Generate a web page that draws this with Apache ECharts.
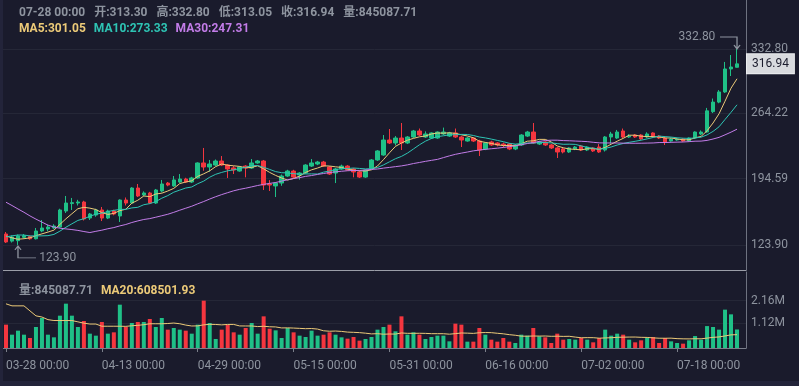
<!DOCTYPE html>
<html><head><meta charset="utf-8">
<script src="https://cdn.jsdelivr.net/npm/echarts@6/dist/echarts.min.js"></script>
<style>
html,body{margin:0;padding:0;background:#23243a;width:799px;height:386px;overflow:hidden;}
#c{position:absolute;left:3px;top:0;width:796px;height:381px;background:#1a1b2c;}
</style></head><body><div id="c"></div>
<script>
// ---- data ----
// closes / volumes before the first visible day (scrolled out of view, used only for the MA lines)
const preClose = [238, 244, 240, 246, 242, 238, 239, 205, 198, 192, 190, 196, 188, 189, 122, 116, 115, 119, 118, 124, 121, 125, 134, 140, 138, 142, 141, 131, 126];
const preVolume = [2450000, 800000, 610000, 5050000, 5480000, 2450000, 3000000, 1290000, 1480000, 2020000, 1480000, 2160000, 2430000, 1450000, 560000, 3190000, 650000, 720000, 1980000];

const open = [135.6,128.0,128.5,132.0,133.0,130.5,138.8,141.0,142.0,143.0,160.1,168.0,168.6,169.7,152.6,155.8,161.2,152.6,160.1,154.8,
171.8,168.6,184.6,177.2,179.3,168.6,181.4,189.9,186.8,191.0,194.2,191.0,195.3,211.3,207.0,209.1,213.4,209.1,206.0,202.7,
208.0,205.9,211.3,213.4,188.9,186.8,189.9,197.4,202.7,198.5,200.6,208.0,210.2,212.3,207.0,200.6,204.9,208.0,204.9,201.7,
196.3,205.9,214.5,219.8,235.8,232.6,237.9,232.6,239.0,245.4,239.0,237.9,237.9,242.2,240.0,243.3,239.0,234.7,237.9,234.7,
226.2,233.7,232.6,231.5,231.5,226.2,230.5,240.0,244.3,231.5,233.7,230.5,227.3,226.2,223.0,226.2,229.4,225.1,227.3,228.3,
225.1,239.0,237.9,245.4,239.0,241.1,241.1,239.0,243.3,240.0,237.9,234.7,235.8,236.9,234.7,237.9,242.2,244.3,266.0,276.2,
287.0,311.5,313.30];
const close = [127.1,132.4,133.5,133.8,130.5,138.8,142.0,143.0,144.1,161.2,168.6,169.0,169.7,151.6,156.9,161.2,152.6,160.1,156.9,171.8,
168.6,184.6,176.1,179.3,168.6,182.5,188.9,187.8,193.2,194.2,191.0,195.3,211.3,207.0,210.2,213.4,209.1,204.9,203.8,207.0,
205.9,211.3,213.4,187.8,187.8,189.9,197.4,202.7,196.3,200.6,209.1,211.3,212.3,208.0,199.5,204.9,208.0,203.8,201.7,196.3,
203.8,214.5,224.1,235.8,232.6,237.9,232.6,239.0,245.4,241.1,242.2,243.3,244.3,244.3,243.3,239.0,235.8,237.9,234.7,225.1,
232.6,230.5,230.5,230.5,226.2,230.5,241.1,244.3,232.6,233.7,230.5,227.3,223.0,223.0,227.3,228.3,225.1,228.3,224.1,223.0,
239.0,242.2,244.3,239.0,240.0,239.0,236.9,242.2,239.0,237.9,233.7,236.9,236.8,234.7,237.9,244.3,244.3,266.85,276.2,287.01,
311.5,313.6,316.94];
const low = [126.0,126.5,123.9,131.0,129.5,129.8,137.5,138.5,141.0,142.0,158.0,161.2,166.0,150.0,150.5,154.0,149.4,151.5,155.5,148.4,
166.0,168.0,175.0,176.0,167.5,167.6,180.0,186.5,186.0,190.0,190.0,189.9,194.5,203.0,202.0,208.0,208.0,195.3,199.5,202.0,
196.0,205.0,210.5,182.5,181.4,175.0,187.0,196.5,195.0,193.5,199.5,207.0,209.0,207.0,198.5,189.9,204.0,203.0,196.0,195.3,
195.5,205.0,213.5,219.0,231.5,230.0,225.1,231.5,238.0,240.0,238.0,237.0,237.0,241.0,239.0,238.0,228.3,234.0,233.7,218.7,
225.0,229.5,229.0,228.0,225.0,225.0,229.5,239.0,231.5,230.5,229.5,226.2,216.6,221.5,222.0,225.0,224.0,224.0,223.0,222.0,
223.5,232.0,236.9,238.0,238.0,238.0,236.0,238.0,238.0,236.9,230.5,234.0,235.0,234.0,234.0,237.0,241.0,243.5,264.5,275.0,
286.0,304.0,313.05];
const high = [137.7,134.0,135.0,135.5,134.0,142.0,150.5,145.5,146.0,162.5,176.1,174.0,172.0,171.0,158.0,162.5,164.4,161.5,161.5,172.5,
174.5,185.5,188.9,181.0,180.5,183.6,193.2,191.0,197.4,199.5,195.5,196.5,212.0,227.3,214.5,215.0,218.7,210.0,208.0,208.0,
209.0,215.5,214.5,214.5,193.0,191.0,199.0,204.0,204.0,201.5,210.0,215.5,213.5,213.5,208.0,206.0,209.5,209.0,206.0,203.0,
204.5,215.5,225.0,241.1,247.5,240.0,253.9,240.0,246.5,248.0,245.0,244.0,245.0,249.0,244.5,248.0,240.0,239.0,238.5,236.0,
233.5,235.0,233.5,233.0,232.5,231.5,242.0,245.5,253.9,235.0,234.5,231.5,228.3,227.3,228.0,229.4,230.5,229.0,228.0,231.5,
240.0,244.5,246.5,248.0,242.0,242.0,242.0,244.0,244.0,241.0,239.0,237.9,237.5,237.5,238.5,245.0,246.0,270.0,280.0,289.0,
319.0,326.4,332.80];
const volume = [1065000,608000,791000,608000,456000,958000,1369000,608000,487000,1475000,2023000,1475000,958000,1232000,654000,563000,1186000,654000,715000,1977000,
958000,1141000,1186000,1186000,1323000,958000,1369000,837000,913000,837000,791000,654000,1065000,2160000,1141000,411000,837000,1050000,715000,608000,
913000,1141000,654000,1445000,882000,806000,456000,913000,715000,563000,502000,791000,563000,608000,715000,608000,487000,426000,502000,335000,
411000,502000,837000,958000,1065000,761000,1445000,608000,715000,608000,411000,502000,563000,563000,304000,1110000,1065000,289000,289000,913000,
608000,380000,289000,456000,289000,228000,608000,563000,913000,532000,487000,228000,654000,380000,411000,380000,456000,380000,259000,456000,
837000,563000,654000,608000,380000,259000,350000,456000,502000,228000,456000,304000,228000,198000,350000,545000,380000,1000000,958000,837000,
1750000,1535950.89,845087.71];

const priceTicks = [123.90, 194.59, 264.22, 332.80];
const volumeTicks = [1120000, 2160000];
const firstDay = '2023-03-28';

// ---- derived ----
const N = close.length;
const pad = n => (n < 10 ? '0' : '') + n;
const dates = [];
const d0 = new Date(firstDay + 'T00:00:00Z');
for (let i = 0; i < N; i++) {
  const d = new Date(d0.getTime() + i * 86400000);
  dates.push(pad(d.getUTCMonth() + 1) + '-' + pad(d.getUTCDate()) + ' 00:00');
}
const categories = dates.concat(['']); // one empty slot = right offset

function movingAvg(all, n, offset) {
  const out = [];
  for (let i = 0; i < N; i++) {
    const j = i + offset;
    let s = 0;
    for (let k = j - n + 1; k <= j; k++) s += all[k];
    out.push(s / n);
  }
  return out;
}
const allClose = preClose.concat(close);
const allVol = preVolume.concat(volume);
const ma5 = movingAvg(allClose, 5, preClose.length);
const ma10 = movingAvg(allClose, 10, preClose.length);
const ma30 = movingAvg(allClose, 30, preClose.length);
const vma20 = movingAvg(allVol, 20, preVolume.length);

const UP = '#1fc087', DOWN = '#f5363f';
const C5 = '#ecca78', C10 = '#2ec4b4', C30 = '#c27ce8';
const TXT = '#8e949f';
const FONT = "Roboto, 'Noto Sans CJK SC', sans-serif";

const candle = close.map((c, i) => [open[i], c, low[i], high[i]]);
const L = N - 1;
let maxIdx = 0, minIdx = 0;
for (let i = 0; i < N; i++) { if (high[i] > high[maxIdx]) maxIdx = i; if (low[i] < low[minIdx]) minIdx = i; }

const labelEvery16 = (idx) => idx % 16 === 0 && idx < N;
const f2 = v => v.toFixed(2);

const chart = echarts.init(document.getElementById('c'), null, {renderer: 'canvas'});
chart.setOption({
  animation: false,
  backgroundColor: '#1a1b2c',
  textStyle: {fontFamily: FONT},
  title: [
    {left: 16, top: 7, padding: 0,
     text: '{t|' + dates[L] + '}{t|开:' + f2(open[L]) + '}{t|高:' + f2(high[L]) + '}{t|低:' + f2(low[L]) + '}{t|收:' + f2(close[L]) + '}{t|量:' + f2(volume[L]) + '}',
     textStyle: {fontFamily: FONT, rich: {t: {color: TXT, fontSize: 12, fontFamily: FONT, padding: [0, 9, 0, 0]}}}},
    {left: 16, top: 23, padding: 0,
     text: '{a|MA5:' + f2(ma5[L]) + '}{b|MA10:' + f2(ma10[L]) + '}{c|MA30:' + f2(ma30[L]) + '}',
     textStyle: {fontFamily: FONT, rich: {
       a: {color: C5, fontSize: 12, fontFamily: FONT, padding: [0, 8, 0, 0]},
       b: {color: C10, fontSize: 12, fontFamily: FONT, padding: [0, 8, 0, 0]},
       c: {color: C30, fontSize: 12, fontFamily: FONT, padding: [0, 8, 0, 0]}}}},
    {left: 16, top: 285, padding: 0,
     text: '{t|量:' + f2(volume[L]) + '}{a|MA20:' + f2(vma20[L]) + '}',
     textStyle: {fontFamily: FONT, rich: {
       t: {color: TXT, fontSize: 12, fontFamily: FONT, padding: [0, 8, 0, 0]},
       a: {color: C5, fontSize: 12, fontFamily: FONT}}}}
  ],
  grid: [
    {left: 0, right: 53, top: 0, height: 270},
    {left: 0, right: 53, top: 272, height: 76}
  ],
  xAxis: [
    {type: 'category', gridIndex: 0, data: categories, boundaryGap: true,
     axisLine: {show: true, lineStyle: {color: '#9b9ea8', width: 1}},
     axisTick: {show: false}, axisLabel: {show: false}, splitLine: {show: false}},
    {type: 'category', gridIndex: 1, data: categories, boundaryGap: true,
     axisLine: {show: true, lineStyle: {color: '#7a7e8a', width: 1}},
     axisTick: {show: true, alignWithLabel: true, interval: labelEvery16, length: 4, lineStyle: {color: '#7a7e8a'}},
     axisLabel: {show: true, interval: labelEvery16, align: 'left', color: TXT, fontSize: 12, margin: 12, fontFamily: FONT},
     splitLine: {show: false}}
  ],
  yAxis: [
    {type: 'value', gridIndex: 0, position: 'right', min: 97.21, max: 385.03, scale: true,
     axisLine: {show: true, lineStyle: {color: '#6e7280'}},
     axisTick: {show: false, customValues: priceTicks},
     axisLabel: {customValues: priceTicks, formatter: v => v.toFixed(2), color: TXT, fontSize: 12, margin: 5, fontFamily: FONT},
     splitLine: {show: true, lineStyle: {color: '#252737', width: 1}}},
    {type: 'value', gridIndex: 1, position: 'right', min: 0, max: 3468000,
     axisLine: {show: true, lineStyle: {color: '#6e7280'}},
     axisTick: {show: false, customValues: volumeTicks},
     axisLabel: {customValues: volumeTicks, formatter: v => (v / 1e6).toFixed(2) + 'M', color: TXT, fontSize: 12, margin: 5, fontFamily: FONT},
     splitLine: {show: true, lineStyle: {color: '#252737', width: 1}}}
  ],
  series: [
    {type: 'candlestick', name: 'K', xAxisIndex: 0, yAxisIndex: 0, data: candle, barWidth: 4,
     itemStyle: {color: UP, color0: DOWN, borderColor: UP, borderColor0: DOWN, borderWidth: 1},
     markPoint: {
       silent: true,
       itemStyle: {color: 'rgba(0,0,0,0)', borderColor: TXT, borderWidth: 1},
       label: {show: true, color: TXT, fontSize: 12, fontFamily: FONT},
       data: [
         {coord: [maxIdx, high[maxIdx]], value: high[maxIdx],
          symbol: 'path://M0 0L17 0L17 12M14 8L17 12L20 8', symbolSize: [20, 12], symbolOffset: [-7, -6],
          label: {position: [-4, 0], align: 'right', verticalAlign: 'middle', formatter: p => f2(p.value)}},
         {coord: [minIdx, low[minIdx]], value: low[minIdx],
          symbol: 'path://M3 0L3 12L21 12M0 4L3 0L6 4', symbolSize: [21, 12], symbolOffset: [7.5, 7],
          label: {position: [25, 12], align: 'left', verticalAlign: 'middle', formatter: p => f2(p.value)}}
       ]
     },
     markLine: {
       silent: true, symbol: 'none',
       lineStyle: {color: 'rgba(0,0,0,0)', width: 1, type: 'solid'},
       label: {show: true, position: 'end', distance: 1, formatter: f2(close[L]), color: '#1a1b2c', fontSize: 12, fontFamily: FONT,
               backgroundColor: '#d8dade', borderColor: '#eceef0', borderWidth: 1, padding: [4, 5, 3, 5], opacity: 1},
       emphasis: {disabled: true},
       data: [{yAxis: close[L]}]
     }},
    {type: 'line', name: 'MA5', xAxisIndex: 0, yAxisIndex: 0, data: ma5, symbol: 'none', lineStyle: {color: C5, width: 1}, z: 3},
    {type: 'line', name: 'MA10', xAxisIndex: 0, yAxisIndex: 0, data: ma10, symbol: 'none', lineStyle: {color: C10, width: 1}, z: 3},
    {type: 'line', name: 'MA30', xAxisIndex: 0, yAxisIndex: 0, data: ma30, symbol: 'none', lineStyle: {color: C30, width: 1}, z: 3},
    {type: 'bar', name: 'VOL', xAxisIndex: 1, yAxisIndex: 1, barWidth: 4,
     data: volume.map((v, i) => ({value: v, itemStyle: {color: close[i] >= open[i] ? UP : DOWN}}))},
    {type: 'line', name: 'VMA20', xAxisIndex: 1, yAxisIndex: 1, data: vma20, symbol: 'none', lineStyle: {color: C5, width: 1}, z: 3}
  ]
});
</script></body></html>
